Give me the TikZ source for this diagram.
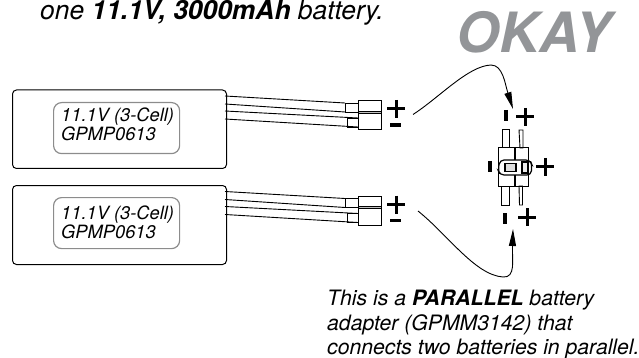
\documentclass[tikz,border=0pt]{standalone}
\usepackage{fontspec}
\setmainfont{TeX Gyre Heros}
\usetikzlibrary{arrows.meta,calc}
\definecolor{okaygrey}{HTML}{939598}
\definecolor{labelgrey}{gray}{0.55}
\tikzset{
 x=1pt,y=-1pt,
 battery/.style={draw=black,line width=1pt,rounded corners=4pt},
 labelbox/.style={draw=labelgrey,line width=1.2pt,rounded corners=8pt,inner sep=0pt},
 wire/.style={line width=0.9pt},
 part/.style={draw=black,line width=1pt},
 txt/.style={inner sep=0pt,anchor=base west,font=\itshape},
 sym/.style={line width=3pt},
 leader/.style={line width=0.9pt,-{Triangle[length=17pt,width=7pt]}},
}
\newcommand{\fs}[1]{\fontsize{#1}{#1}\selectfont}
\begin{document}
\begin{tikzpicture}
\useasboundingbox (0,0) rectangle (639,358);
\node[txt,font=\fs{26.4}\itshape] (top) at (40,19.5) {one \textbf{11.1V, 3000mAh} battery.};
\node[txt,font=\fs{55.5}\bfseries\itshape,text=okaygrey] (okay) at (456,53) {OKAY};
% batteries
\node[battery,minimum width=214pt,minimum height=78.5pt,anchor=north west] (bat1) at (12,89.5) {};
\node[battery,minimum width=214pt,minimum height=79pt,anchor=north west] (bat2) at (12,185) {};
\node[labelbox,minimum width=126pt,minimum height=51pt,anchor=north west] (lab1) at (53,102) {};
\node[labelbox,minimum width=126pt,minimum height=51pt,anchor=north west] (lab2) at (53,197) {};
\foreach \o/\n in {0/a,95.5/b}{
 \begin{scope}[yshift=-\o pt]
  \draw[wire] (225,96)--(345,103) (225,104)--(345,112) (225,111)--(358,118) (225,119)--(358,127);
  \draw[part,line width=0.8pt] (345,103) rectangle (358,112) (347,118) rectangle (358,127);
  \draw[part] (358,101) rectangle (381,130);
  \draw[line width=0.9pt,fill=gray!50] (358,111) rectangle (381,113);
  \draw[sym] (387,109)--(405,109) (396,100)--(396,118);
  \draw[line width=3.4pt] (390,125)--(401,125);
 \end{scope}
}
\node[txt,font=\fs{18.3}\itshape] at (61,122) {11.1V (3-Cell)};
\node[txt,font=\fs{18.3}\itshape] at (61,141) {GPMP0613};
\node[txt,font=\fs{18.3}\itshape] at (61,219) {11.1V (3-Cell)};
\node[txt,font=\fs{18.3}\itshape] at (61,238) {GPMP0613};
% adapter
\draw[part] (502,130) rectangle (509,148) (501,186) rectangle (509,205);
\draw[part,line width=0.9pt] (519,130) -- (523,130) -- (523,148) -- (520,148) -- cycle;
\draw[part,line width=0.9pt] (519,186) -- (522.5,186) -- (522.5,205) -- (519.5,205) -- cycle;
\draw[part] (498,148) rectangle (528,186);
\draw[part,line width=1.3pt] (515,148) -- (515,186);
\draw[part,fill=white,rounded corners=4pt,line width=1.2pt] (500,160) -- (530,160) -- (532,165) -- (531,175) -- (500,175) -- (498,170) -- cycle;
\draw[part,fill=gray!25,line width=1.1pt] (505,163.5) rectangle (516,171.5);
\draw[part,fill=gray!15,line width=1.1pt] (522,162) rectangle (528,173);
% signs
\draw[line width=4pt] (506,110)--(506,121) (490,161)--(490,172) (505,213)--(505,224);
\draw[sym] (516,117)--(534,117) (525,108)--(525,126);
\draw[sym] (536,167)--(554,167) (545,158)--(545,176);
\draw[sym] (518,217)--(536,217) (527,208)--(527,226);
% leaders
\coordinate (s1) at (413,114.5);
\coordinate (t1) at (513,109);
\coordinate (s2) at (418,211);
\coordinate (t2) at (513,229);
\draw[leader] (s1) .. controls (440,97) and (468,66) .. (491,65) .. controls (503,65) and (505,84) .. (t1);
\draw[leader] (s2) .. controls (448,235) and (475,275) .. (503,277) .. controls (516,278) and (512,260) .. (t2);
% caption
\node[txt,font=\fs{21.2}\itshape] at (327,305) {This is a \textbf{PARALLEL} battery};
\node[txt,font=\fs{21.2}\itshape] at (327,330) {adapter (GPMM3142) that};
\node[txt,font=\fs{21.2}\itshape] at (327,354.5) {connects two batteries in parallel.};
\end{tikzpicture}
\end{document}
